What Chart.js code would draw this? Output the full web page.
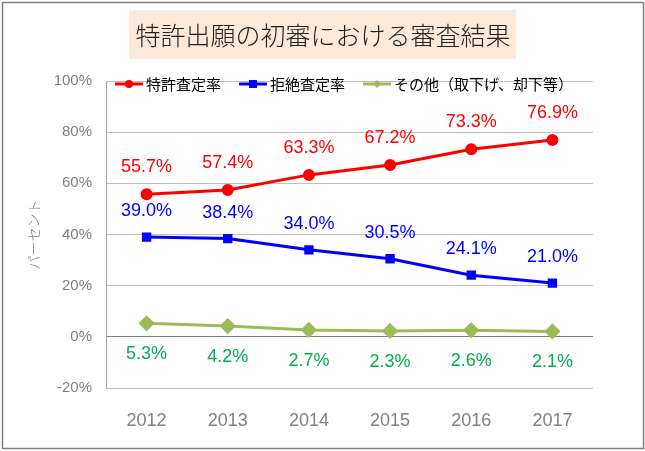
<!DOCTYPE html>
<html>
<head>
<meta charset="utf-8">
<script src="https://cdn.jsdelivr.net/npm/chart.js@4"></script>
<style>
  html, body { margin: 0; padding: 0; background: #fff; }
  #wrap { position: relative; width: 645px; height: 451px; }
</style>
</head>
<body>
<div id="wrap"><canvas id="chart" width="645" height="451"></canvas></div>
<script>
const years = ['2012', '2013', '2014', '2015', '2016', '2017'];
const grantRate = [55.7, 57.4, 63.3, 67.2, 73.3, 76.9];
const refusalRate = [39.0, 38.4, 34.0, 30.5, 24.1, 21.0];
const otherRate = [5.3, 4.2, 2.7, 2.3, 2.6, 2.1];
const seriesNames = ['特許査定率', '拒絶査定率', 'その他（取下げ、却下等）'];
const chartTitle = '特許出願の初審における審査結果';
const yTitle = 'パーセント';

const fontLatin = 'Arial, "Liberation Sans", sans-serif';
const fontJp = '"Noto Sans CJK JP", sans-serif';

// title box, legend with line+marker, value labels
const decor = {
  id: 'decor',
  beforeDraw(chart) {
    const ctx = chart.ctx;
    ctx.save();
    ctx.fillStyle = '#fff';
    ctx.fillRect(0, 0, chart.width, chart.height);
    ctx.strokeStyle = '#808080';
    ctx.lineWidth = 1.5;
    ctx.strokeRect(2.5, 2.5, chart.width - 4, chart.height - 5);
    // title
    ctx.fillStyle = '#FDE9D9';
    ctx.fillRect(129, 10, 387, 49);
    ctx.fillStyle = '#222';
    ctx.font = '300 25px ' + fontJp;
    ctx.textAlign = 'center';
    ctx.textBaseline = 'middle';
    ctx.fillText(chartTitle, 323, 35);
    ctx.restore();
  },
  afterDatasetsDraw(chart) {
    const ctx = chart.ctx;
    ctx.save();
    // legend
    ctx.font = '15px ' + fontJp;
    ctx.textBaseline = 'middle';
    ctx.textAlign = 'left';
    let x = 115;
    const ly = 84;
    chart.data.datasets.forEach((ds) => {
      ctx.strokeStyle = ds.borderColor;
      ctx.lineWidth = 3;
      ctx.beginPath();
      ctx.moveTo(x, ly);
      ctx.lineTo(x + 28, ly);
      ctx.stroke();
      ctx.fillStyle = ds.backgroundColor;
      const cx = x + 14;
      ctx.beginPath();
      if (ds.pointStyle === 'circle') {
        ctx.arc(cx, ly, 4, 0, Math.PI * 2);
      } else if (ds.pointStyle === 'rect') {
        ctx.rect(cx - 4, ly - 4, 8, 8);
      } else {
        ctx.moveTo(cx, ly - 4); ctx.lineTo(cx + 4, ly); ctx.lineTo(cx, ly + 4); ctx.lineTo(cx - 4, ly);
      }
      ctx.fill();
      ctx.fillStyle = '#000';
      ctx.fillText(ds.label, x + 31, ly);
      x += 31 + ctx.measureText(ds.label).width + 18;
    });
    // value labels
    ctx.font = '18px ' + fontLatin;
    ctx.textAlign = 'center';
    chart.data.datasets.forEach((ds, i) => {
      const meta = chart.getDatasetMeta(i);
      meta.data.forEach((pt, j) => {
        ctx.fillStyle = ds.labelColor;
        ctx.fillText(ds.data[j].toFixed(1) + '%', pt.x, pt.y + ds.labelOffset);
      });
    });
    ctx.restore();
  }
};

new Chart(document.getElementById('chart'), {
  type: 'line',
  data: {
    labels: years,
    datasets: [
      {
        label: seriesNames[0], data: grantRate,
        borderColor: '#FF0000', backgroundColor: '#FF0000',
        pointStyle: 'circle', pointRadius: 4.5, borderWidth: 3,
        labelColor: '#FF0000', labelOffset: -27
      },
      {
        label: seriesNames[1], data: refusalRate,
        borderColor: '#0000FF', backgroundColor: '#0000FF',
        pointStyle: 'rect', pointRadius: 4.5, borderWidth: 3,
        labelColor: '#0000FF', labelOffset: -26
      },
      {
        label: seriesNames[2], data: otherRate,
        borderColor: '#9BBB59', backgroundColor: '#9BBB59',
        pointStyle: 'rectRot', pointRadius: 6, borderWidth: 3,
        labelColor: '#00B050', labelOffset: 31
      }
    ]
  },
  options: {
    responsive: false,
    animation: false,
    layout: { padding: { left: 3, right: 52, top: 81, bottom: 3 } },
    plugins: {
      legend: { display: false },
      title: { display: false },
      tooltip: { enabled: false }
    },
    elements: { line: { tension: 0 }, point: { borderWidth: 0 } },
    scales: {
      x: {
        offset: true,
        grid: { display: false, drawTicks: false },
        border: { display: false },
        ticks: { color: '#808080', font: { family: fontLatin, size: 18 }, padding: 22 },
        afterFit: (s) => { s.height = 60; }
      },
      y: {
        min: -20, max: 100,
        ticks: {
          stepSize: 20, color: '#808080', padding: 14,
          font: { family: fontLatin, size: 15 },
          callback: (v) => v + '%'
        },
        grid: {
          drawTicks: false,
          color: (c) => (c.tick && c.tick.value === 0 ? '#808080' : '#BFBFBF'),
          lineWidth: 1
        },
        border: { display: true, color: '#A6A6A6' },
        title: {
          display: true, text: yTitle, color: '#808080',
          font: { family: fontJp, size: 14, weight: '300' },
          padding: { top: 22, bottom: 0 }
        },
        afterFit: (s) => { s.width = 103; }
      }
    }
  },
  plugins: [decor]
});
</script>
</body>
</html>
